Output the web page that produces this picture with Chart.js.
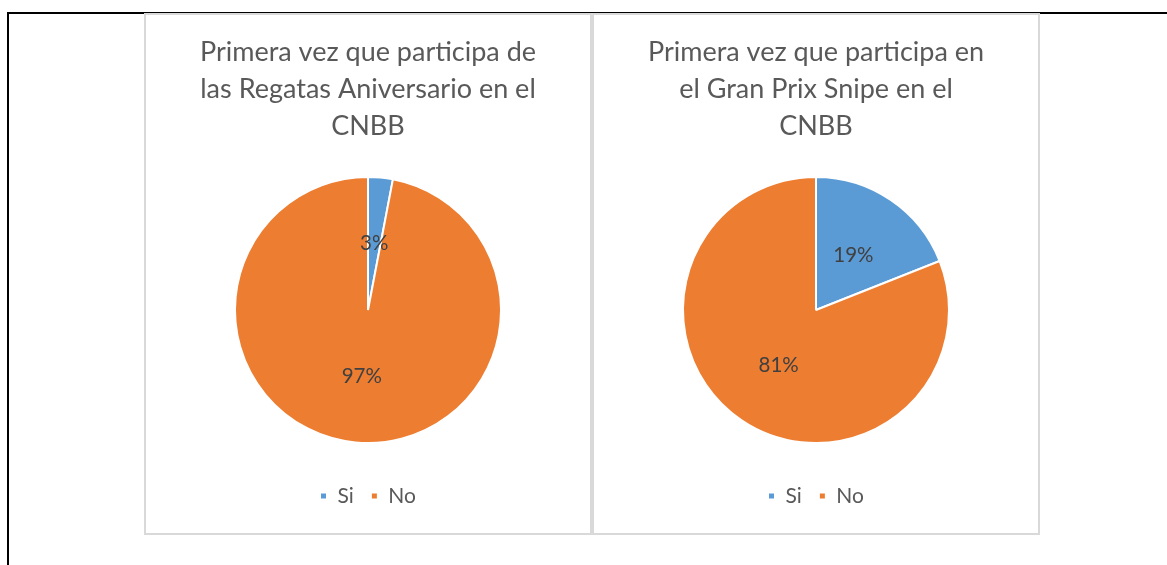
<!DOCTYPE html>
<html>
<head>
<meta charset="utf-8">
<script src="https://cdn.jsdelivr.net/npm/chart.js@4/dist/chart.umd.min.js"></script>
<style>
  html, body { margin: 0; padding: 0; background: #ffffff; }
  body { width: 1167px; height: 565px; position: relative; overflow: hidden; }
  .frameL { position: absolute; left: 7px; top: 12px; width: 2px; height: 553px; background: #000; }
  .frameT { position: absolute; left: 7px; top: 12px; width: 1160px; height: 2px; background: #000; }
  .panel { position: absolute; top: 13px; width: 448px; height: 522px; border: 2px solid #d9d9d9; box-sizing: border-box; background: #fff; }
  .panel canvas { display: block; }
</style>
</head>
<body>
<div class="frameL"></div>
<div class="frameT"></div>
<div class="panel" style="left:144px;"><canvas id="c1" width="444" height="518"></canvas></div>
<div class="panel" style="left:592px;"><canvas id="c2" width="444" height="518"></canvas></div>
<script>
const categories = ['Si', 'No'];
const regatasValues = [3, 97];
const gpSnipeValues = [19, 81];
const title1 = ['Primera vez que participa de', 'las Regatas Aniversario en el', 'CNBB'];
const title2 = ['Primera vez que participa en', 'el Gran Prix Snipe en el', 'CNBB'];
const sliceColors = ['#5b9bd5', '#ed7d31'];

const FONT = 'Lato, "Open Sans", sans-serif';

const pctLabels = {
  id: 'pctLabels',
  afterDatasetsDraw(chart) {
    const ctx = chart.ctx;
    const ds = chart.data.datasets[0];
    const total = ds.data.reduce((a, b) => a + b, 0);
    const meta = chart.getDatasetMeta(0);
    ctx.save();
    ctx.font = '20.5px ' + FONT;
    ctx.fillStyle = '#404040';
    ctx.textAlign = 'center';
    ctx.textBaseline = 'middle';
    meta.data.forEach((arc, i) => {
      const p = arc.tooltipPosition();
      ctx.fillText(Math.round(ds.data[i] / total * 100) + '%', p.x, p.y);
    });
    ctx.restore();
  }
};

function makePie(id, values, titleLines) {
  return new Chart(document.getElementById(id), {
    type: 'pie',
    data: {
      labels: categories,
      datasets: [{
        data: values,
        backgroundColor: sliceColors,
        borderColor: '#ffffff',
        borderWidth: 2,
        radius: 133
      }]
    },
    options: {
      responsive: false,
      animation: false,
      layout: { padding: { top: 0, bottom: 16.5, left: 0, right: 0 } },
      plugins: {
        title: {
          display: true,
          text: titleLines,
          color: '#595959',
          font: { family: FONT, size: 27, weight: 'normal', lineHeight: 37 / 27 },
          padding: { top: 18.5, bottom: 7 }
        },
        legend: {
          display: true,
          position: 'bottom',
          labels: {
            color: '#595959',
            font: { family: FONT, size: 21 },
            boxWidth: 7,
            boxHeight: 7,
            padding: 17
          }
        },
        tooltip: { enabled: false }
      }
    },
    plugins: [pctLabels]
  });
}

makePie('c1', regatasValues, title1);
makePie('c2', gpSnipeValues, title2);
</script>
</body>
</html>
